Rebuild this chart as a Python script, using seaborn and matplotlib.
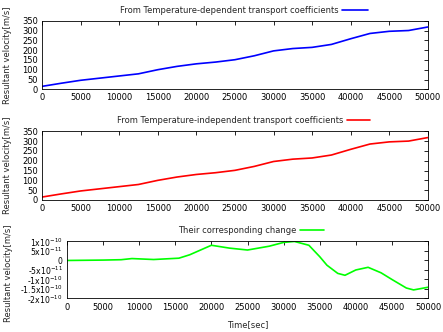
import numpy as np
import pandas as pd
import matplotlib
matplotlib.use("Agg")
import matplotlib.pyplot as plt
import seaborn as sns

# values
time = [0, 2500, 5000, 7500, 10000, 12500, 15000, 17500, 20000, 22500, 25000,
        27500, 30000, 32500, 35000, 37500, 40000, 42500, 45000, 47500, 50000]
v_dependent = [15, 31, 46, 57, 68, 79, 100, 117, 130, 139, 151,
               171, 196, 208, 214, 229, 258, 285, 296, 300, 318]
v_independent = [15, 31, 46, 57, 68, 79, 100, 117, 130, 139, 151,
                 171, 196, 208, 214, 229, 258, 285, 296, 300, 318]

time_change = [0, 5000, 7500, 9000, 12000, 15500, 17000, 20000, 22500, 25000,
               28000, 30000, 31500, 33500, 35000, 36000, 37500, 38500, 40000,
               41700, 43500, 45000, 47000, 48000, 50000]
change = [0, 0.02e-10, 0.04e-10, 0.1e-10, 0.05e-10, 0.12e-10, 0.3e-10, 0.8e-10,
          0.65e-10, 0.55e-10, 0.75e-10, 0.95e-10, 1.0e-10, 0.8e-10, 0.2e-10,
          -0.25e-10, -0.68e-10, -0.78e-10, -0.5e-10, -0.36e-10, -0.65e-10,
          -1.0e-10, -1.45e-10, -1.55e-10, -1.41e-10]

xticks = [0, 5000, 10000, 15000, 20000, 25000, 30000, 35000, 40000, 45000, 50000]
vticks = [0, 50, 100, 150, 200, 250, 300, 350]
cticks = [1e-10, 0.5e-10, 0, -0.5e-10, -1e-10, -1.5e-10, -2e-10]
ctick_labels = [r'1x10$^{-10}$', r'5x10$^{-11}$', '0', r'-5x10$^{-11}$',
                r'-1x10$^{-10}$', r'-1.5x10$^{-10}$', r'-2x10$^{-10}$']

fs = 6.0

sns.set_theme(style="white")
plt.rcParams['font.family'] = ['DejaVu Sans']
plt.rcParams['font.size'] = fs

fig = plt.figure(figsize=(4.43, 3.32), dpi=100)
ax1 = fig.add_axes([0.0948, 0.731, 0.871, 0.2066])
ax2 = fig.add_axes([0.0948, 0.3976, 0.871, 0.207])
ax3 = fig.add_axes([0.1512, 0.101, 0.815, 0.1717])

df1 = pd.DataFrame({'t': time, 'v': v_dependent})
df2 = pd.DataFrame({'t': time, 'v': v_independent})
df3 = pd.DataFrame({'t': time_change, 'v': change})

sns.lineplot(data=df1, x='t', y='v', ax=ax1, color='#0000ff', lw=1.2,
             label='From Temperature-dependent transport coefficients')
sns.lineplot(data=df2, x='t', y='v', ax=ax2, color='#ff0000', lw=1.2,
             label='From Temperature-independent transport coefficients')
sns.lineplot(data=df3, x='t', y='v', ax=ax3, color='#00ff00', lw=1.2,
             label='Their corresponding change')

for ax in (ax1, ax2, ax3):
    ax.set_xlim(0, 50000)
    ax.set_xticks(xticks)
    ax.tick_params(direction='in', top=True, right=True, length=3, width=0.6,
                   labelsize=fs, pad=3, colors='black')
    for s in ax.spines.values():
        s.set_color('black')
        s.set_linewidth(0.6)
    ax.set_ylabel('Resultant velocity[m/s]', fontsize=fs)
    ax.set_xlabel('')

for ax in (ax1, ax2):
    ax.set_ylim(0, 350)
    ax.set_yticks(vticks)
    ax.yaxis.set_label_coords(-0.077, 0.5)

ax3.set_ylim(-2e-10, 1e-10)
ax3.set_yticks(cticks)
ax3.set_yticklabels(ctick_labels, fontsize=5.6)
ax3.yaxis.set_label_coords(-0.15, 0.45)
ax3.set_xlabel('Time[sec]', fontsize=fs, labelpad=6)

ax1.legend(loc='center right', bbox_to_anchor=(0.845, 1.155), frameon=False,
           markerfirst=False, handlelength=3.1, handletextpad=0.4,
           fontsize=fs, borderaxespad=0, borderpad=0)
ax2.legend(loc='center right', bbox_to_anchor=(0.85, 1.155), frameon=False,
           markerfirst=False, handlelength=2.8, handletextpad=0.4,
           fontsize=fs, borderaxespad=0, borderpad=0)
ax3.legend(loc='center right', bbox_to_anchor=(0.712, 1.19), frameon=False,
           markerfirst=False, handlelength=2.9, handletextpad=0.4,
           fontsize=fs, borderaxespad=0, borderpad=0)

fig.savefig('out.png', dpi=100)
